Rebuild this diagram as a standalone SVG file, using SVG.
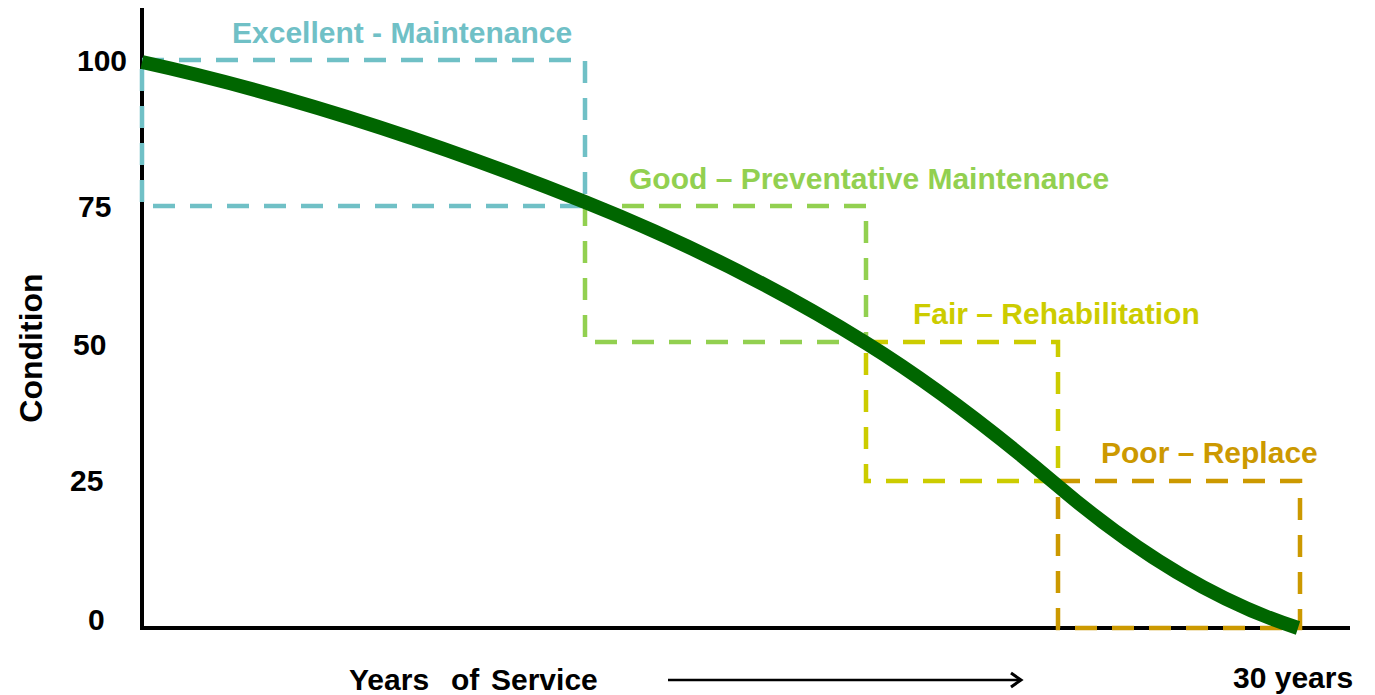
<svg xmlns="http://www.w3.org/2000/svg" width="1375" height="695" viewBox="0 0 1375 695">
<style>
  .lbl { font-family: "Liberation Sans", Arial, sans-serif; font-weight: bold; font-size: 30px; }
  .box { fill: none; stroke-width: 4.5; stroke-dasharray: 22 15; }
  .exc { stroke: #70C0C6; }
  .good { stroke: #92D050; }
  .fair { stroke: #CCCC00; }
  .poor { stroke: #CC9900; }
</style>
<defs>
  <marker id="chev" markerWidth="16" markerHeight="20" refX="13" refY="10" orient="auto" markerUnits="userSpaceOnUse">
    <polyline points="3,3 13,10 3,17" fill="none" stroke="#000" stroke-width="3"/>
  </marker>
</defs>
<rect width="1375" height="695" fill="#fff"/>

<g id="axes">
  <line x1="142" y1="8" x2="142" y2="630" stroke="#000" stroke-width="4"/>
  <line x1="140" y1="628" x2="1350" y2="628" stroke="#000" stroke-width="4"/>
</g>

<g id="excellent">
  <path class="box exc" d="M142,60 H585 V206 H142 Z"/>
  <text class="lbl" x="232" y="43" fill="#70C0C6">Excellent - Maintenance</text>
</g>
<g id="good">
  <path class="box good" d="M585,206 H866 V342 H585 Z"/>
  <text class="lbl" x="629" y="189" fill="#92D050">Good – Preventative Maintenance</text>
</g>
<g id="fair">
  <path class="box fair" d="M866,342 H1058 V481 H866 Z"/>
  <text class="lbl" x="913" y="324" fill="#CCCC00">Fair – Rehabilitation</text>
</g>
<g id="poor">
  <path class="box poor" d="M1058,481 H1300 V628 H1058 Z"/>
  <text class="lbl" x="1101" y="463" fill="#CC9900">Poor – Replace</text>
</g>

<g id="curve">
  <path d="M142,62 C289.7,94.5 437.3,142.9 585,202 C678.7,239.5 772.3,284.9 866,343 C930,382.7 994,431.6 1058,486 C1138,554 1218,602.4 1298,628" fill="none" stroke="#006600" stroke-width="14"/>
</g>

<g id="ylabels" fill="#000">
  <text class="lbl" x="77" y="71">100</text>
  <text class="lbl" x="78" y="217">75</text>
  <text class="lbl" x="73" y="355">50</text>
  <text class="lbl" x="70" y="491">25</text>
  <text class="lbl" x="88" y="630">0</text>
  <text class="lbl" transform="translate(42,348) rotate(-90)" text-anchor="middle" style="font-size:32px">Condition</text>
</g>

<g id="xlabels" fill="#000">
  <text class="lbl" x="349" y="690">Years</text>
  <text class="lbl" x="451" y="690">of</text>
  <text class="lbl" x="491" y="690">Service</text>
  <text class="lbl" x="1233" y="688">30 years</text>
</g>

<g id="connectors">
  <line x1="668" y1="680" x2="1021" y2="680" stroke="#000" stroke-width="2.5" marker-end="url(#chev)"/>
</g>
</svg>
